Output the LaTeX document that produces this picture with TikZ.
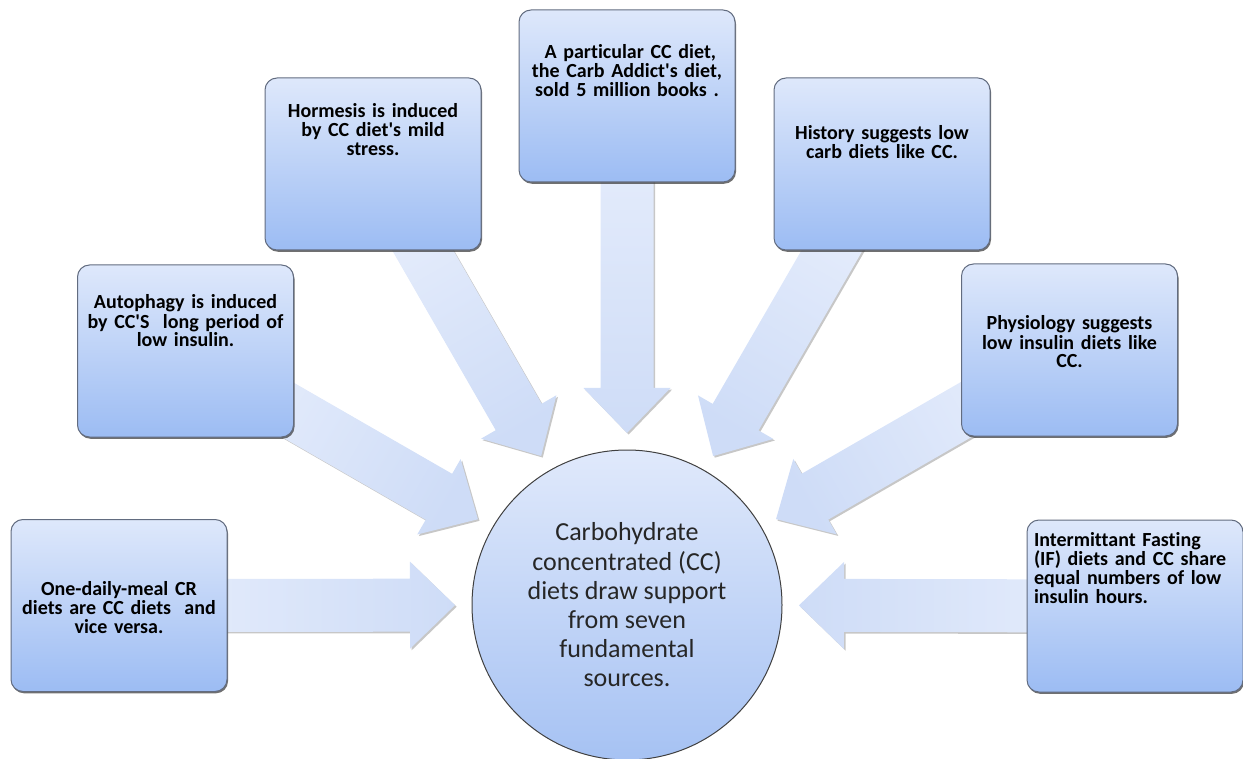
\documentclass[tikz,border=0pt]{standalone}
\usepackage{fontspec}
\setmainfont{Carlito}[Ligatures=NoCommon]
\usetikzlibrary{calc,backgrounds,shadows}

\definecolor{boxtop}{RGB}{222,232,251}
\definecolor{boxbot}{RGB}{156,188,243}
\definecolor{boxline}{RGB}{98,108,128}
\definecolor{hubtop}{RGB}{224,233,251}
\definecolor{hubbot}{RGB}{166,194,243}
\definecolor{arrowlight}{RGB}{227,235,251}
\definecolor{arrowdark}{RGB}{206,220,247}

\tikzset{
  fact/.style={rectangle, rounded corners=6pt, draw=boxline, line width=0.5pt,
    top color=boxtop, bottom color=boxbot,
    minimum width=108pt, minimum height=86pt, text width=100pt,
    inner xsep=4pt, inner ysep=0pt, align=center,
    font=\bfseries\fontsize{10}{9.5}\selectfont,
    drop shadow={shadow xshift=0.5pt, shadow yshift=-0.9pt, fill=black!75, opacity=0.75}},
  textpos/.style 2 args={text height=#1, text depth=#2},
  hubnode/.style={circle, draw=black!75, line width=0.5pt,
    top color=hubtop, bottom color=hubbot,
    minimum size=155pt, inner sep=0pt, outer sep=0pt, align=center,
    font=\fontsize{13}{14.6}\selectfont, text=black!85},
  % wide block arrow from a source box towards the hub
  blockarrow/.style={to path={
    let \p1=(\tikztostart), \p2=(\tikztotarget), \n1={atan2(\y1-\y2,\x1-\x2)} in
    ($(\p2)+(\n1:220pt)+(\n1+90:13.25pt)$) -- ($(\p2)+(\n1:108.5pt)+(\n1+90:13.25pt)$)
    -- ($(\p2)+(\n1:108.5pt)+(\n1+90:21.75pt)$) -- ($(\p2)+(\n1:86pt)$)
    -- ($(\p2)+(\n1:108.5pt)+(\n1-90:21.75pt)$) -- ($(\p2)+(\n1:108.5pt)+(\n1-90:13.25pt)$)
    -- ($(\p2)+(\n1:220pt)+(\n1-90:13.25pt)$) -- cycle}},
  arrowbody/.style={blockarrow, top color=arrowlight, bottom color=arrowdark},
  arrowshade/.style={blockarrow, fill=black!40, opacity=0.55,
    transform canvas={shift={(0.8pt,-0.8pt)}}}
}

\begin{document}
\begin{tikzpicture}[x=0.5pt, y=-0.5pt]
  \useasboundingbox (0,0) rectangle (1243,759);

  \node[hubnode] (hub) at (627,605) {Carbohydrate\\concentrated (CC)\\diets draw support\\from seven\\fundamental\\sources.};

  \node[fact, textpos={38pt}{48pt}] (meal) at (119,605.5) {One-daily-meal CR\\diets are CC diets~ and\\vice versa.};
  \node[fact, textpos={22pt}{64pt}] (auto) at (185.5,351) {Autophagy is induced\\by CC\textquotesingle S~ long period of\\low insulin.};
  \node[fact, textpos={20pt}{66pt}] (horm) at (373,164) {Hormesis is induced\\by CC diet\textquotesingle s mild\\stress.};
  \node[fact, textpos={24.5pt}{61.5pt}] (carb) at (627,96) {~A particular CC diet,\\the Carb Addict\textquotesingle s diet,\\sold 5 million books .};
  \node[fact, textpos={31pt}{55pt}] (hist) at (882,164) {History suggests low\\carb diets like CC.};
  \node[fact, textpos={33pt}{53pt}] (phys) at (1069.5,350) {Physiology suggests\\low insulin diets like\\CC.};
  \node[fact, textpos={13pt}{73pt}, align=left, text width=101pt, inner xsep=3.5pt] (fast) at (1135,606)
    {Intermittant Fasting\\(IF) diets and CC share\\equal numbers of low\\insulin hours.};

  \begin{scope}[on background layer]
    \foreach \b/\a in {meal/90, auto/60, horm/30, carb/0, hist/-30, phys/-60, fast/-90} {
      \path[arrowshade] (\b) to (hub);
      \path[arrowbody, shading angle=\a] (\b) to (hub);
    }
  \end{scope}
\end{tikzpicture}
\end{document}
